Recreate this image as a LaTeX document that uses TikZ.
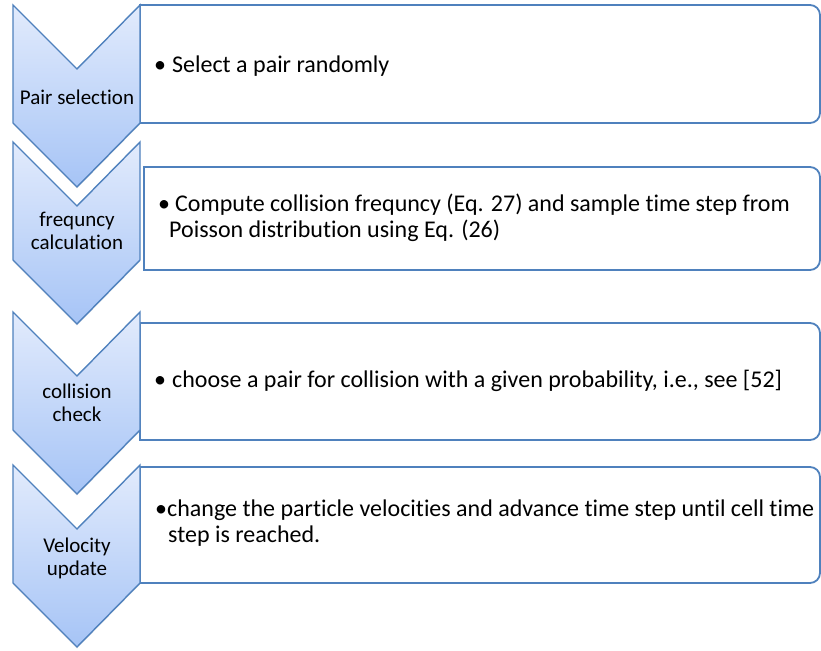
\documentclass[tikz,border=0pt]{standalone}
\usepackage{fontspec}
\setmainfont{Carlito}[Ligatures=CommonOff]
\usetikzlibrary{shadows}
\definecolor{edgeblue}{RGB}{79,129,189}
\definecolor{chevtop}{RGB}{226,235,252}
\definecolor{chevbot}{RGB}{166,196,246}
\newcommand\chevronat[1]{%
  \draw[chev] (13,#1) -- (77,#1+64) -- (140,#1) -- (140,#1+118)
    -- (77,#1+182) -- (13,#1+118) -- cycle;}
\newcommand\itemboxat[3]{%
  \draw[listbox] (#1,#2) -- (810,#2) to[out=0,in=90] (820,#2+10)
    -- (820,#3-10) to[out=-90,in=0] (810,#3) -- (#1,#3) -- cycle;}
\begin{document}
\begin{tikzpicture}[x=1pt,y=-1pt,
  chev/.style={draw=edgeblue, line width=1.4pt, line join=miter,
    top color=chevtop, bottom color=chevbot,
    drop shadow={shadow xshift=0pt, shadow yshift=-1.5pt, opacity=0.18}},
  listbox/.style={draw=edgeblue, line width=1.8pt, fill=white},
  chevlabel/.style={font=\fontsize{21}{23}\selectfont, align=center, inner sep=0pt},
  itemtext/.style={font=\fontsize{24}{26}\selectfont, align=left, inner sep=0pt, anchor=west}]
\useasboundingbox (0,0) rectangle (821,650);
% list boxes
\itemboxat{140}{5}{123}
\itemboxat{144}{167}{270}
\itemboxat{140}{323}{440}
\itemboxat{140}{467}{583}
% chevrons
\chevronat{5}
\chevronat{142}
\chevronat{312}
\chevronat{465}
% chevron labels
\node[chevlabel] (c1) at (77,97) {Pair selection};
\node[chevlabel] (c2) at (77,231) {frequncy\\calculation};
\node[chevlabel] (c3) at (77,403) {collision\\check};
\node[chevlabel] (c4) at (77,558) {Velocity\\update};
% item texts
\node[itemtext] (t1) at (154,66) {\makebox[18pt][l]{\textbullet}Select a pair randomly};
\node[itemtext] (t2) at (158,218) {\makebox[17pt][l]{\textbullet}Compute collision frequncy (Eq. 27) and sample time step from\\\hspace*{11pt}Poisson distribution using Eq. (26)};
\node[itemtext] (t3) at (154,381) {\makebox[18pt][l]{\textbullet}choose a pair for collision with a given probability, i.e., see [52]};
\node[itemtext] (t4) at (155,523) {\makebox[12pt][l]{\textbullet}change the particle velocities and advance time step until cell time\\\hspace*{13pt}step is reached.};
\end{tikzpicture}
\end{document}
